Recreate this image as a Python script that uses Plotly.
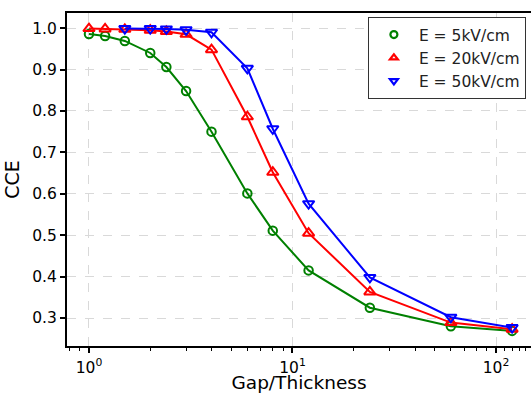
import plotly.graph_objects as go

gap = [1, 1.2, 1.5, 2, 2.4, 3, 4, 6, 8, 12, 24, 60, 120]
cce_5 = [0.986, 0.981, 0.969, 0.940, 0.906, 0.848, 0.750, 0.601, 0.511, 0.415, 0.325, 0.280, 0.269]
cce_20 = [0.999, 0.998, 0.997, 0.995, 0.992, 0.985, 0.948, 0.786, 0.652, 0.505, 0.363, 0.289, 0.273]
gap_50 = [1.5, 2, 2.4, 3, 4, 6, 8, 12, 24, 60, 120]
cce_50 = [0.999, 0.999, 0.998, 0.996, 0.990, 0.903, 0.757, 0.576, 0.398, 0.302, 0.277]

labels = ["E = 5kV/cm", "E = 20kV/cm", "E = 50kV/cm"]
colors = ["green", "red", "blue"]
symbols = ["circle-open", "triangle-up-open", "triangle-down-open"]
sizes = [8.5, 10, 10]
xs = [gap, gap, gap_50]
ys = [cce_5, cce_20, cce_50]

fig = go.Figure()
for x, y, c, s, sz in zip(xs, ys, colors, symbols, sizes):
    fig.add_trace(go.Scatter(x=x, y=y, mode="lines+markers", showlegend=False,
                             line=dict(color=c, width=2),
                             marker=dict(symbol=s, size=sz, color=c, line=dict(color=c, width=2))))
for lab, c, s in zip(labels, colors, symbols):
    fig.add_trace(go.Scatter(x=[None], y=[None], mode="markers", name=lab,
                             marker=dict(symbol=s, size=7, color=c, line=dict(color=c, width=2.2))))

font = "DejaVu Sans"
fig.update_layout(
    width=531, height=393,
    margin=dict(l=67, r=0, t=13, b=47, autoexpand=False),
    plot_bgcolor="white", paper_bgcolor="white",
    font=dict(family=font, color="black", size=15.5),
    legend=dict(x=0.989, y=0.988, xanchor="right", yanchor="top",
                bgcolor="white", bordercolor="#333333", borderwidth=1,
                itemwidth=40, tracegroupgap=0,
                font=dict(size=15.5, family=font, color="#222222")),
)
fig.update_xaxes(
    type="log", range=[-0.108, 2.172],
    tickvals=[1, 10, 100], ticktext=["10<sup>0</sup>", "10<sup>1</sup>", "10<sup>2</sup>"],
    ticks="outside", ticklen=5, tickwidth=1.5, tickcolor="black",
    ticklabelstandoff=1,
    showline=True, linecolor="black", linewidth=2, mirror=True,
    showgrid=True, gridcolor="#d9d9d9", griddash="dash", gridwidth=1,
    zeroline=False,
    minor=dict(tickvals=[0.8, 0.9] + [k for k in range(2, 10)] + [10 * k for k in range(2, 10)] + [110, 120, 130, 140],
               ticks="outside", ticklen=3, tickwidth=1, tickcolor="black", showgrid=False),
    title=dict(text="Gap/Thickness", font=dict(size=18.5, family=font), standoff=7),
)
fig.update_yaxes(
    range=[0.2325, 1.0365],
    tickvals=[0.3, 0.4, 0.5, 0.6, 0.7, 0.8, 0.9, 1.0],
    ticktext=["0.3", "0.4", "0.5", "0.6", "0.7", "0.8", "0.9", "1.0"],
    ticks="outside", ticklen=5, tickwidth=1.5, tickcolor="black",
    showline=True, linecolor="black", linewidth=2, mirror=False,
    showgrid=True, gridcolor="#d9d9d9", griddash="dash", gridwidth=1,
    zeroline=False,
    title=dict(text="CCE", font=dict(size=19, family=font), standoff=8),
)

fig.write_html("out.html")
